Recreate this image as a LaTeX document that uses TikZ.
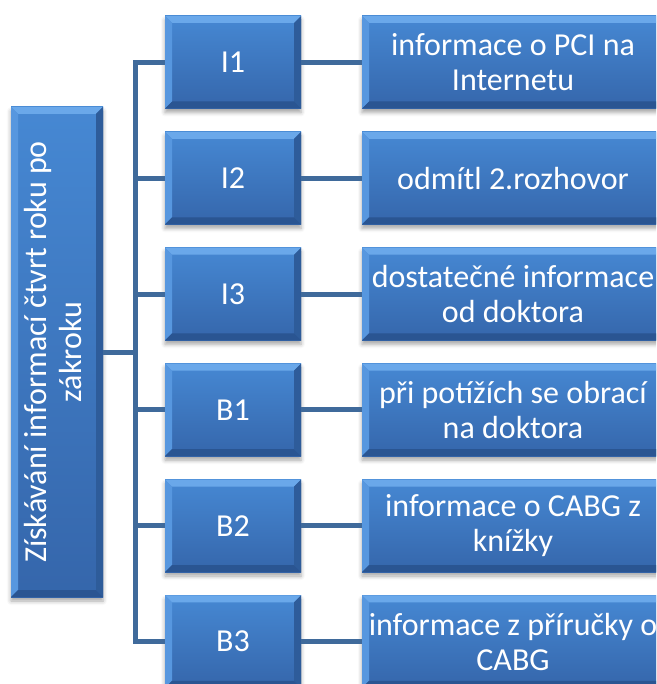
\documentclass[tikz,border=0pt]{standalone}
\usepackage{fontspec}
\setmainfont{Carlito}
\usetikzlibrary{calc,shadows.blur}

\definecolor{boxtop}{HTML}{4688D3}
\definecolor{boxbot}{HTML}{3566AB}
\definecolor{bevtop}{HTML}{6AA8EA}
\definecolor{bevleft}{HTML}{5797DF}
\definecolor{bevright}{HTML}{2E5C9A}
\definecolor{bevbot}{HTML}{2A5592}
\definecolor{linkc}{HTML}{3F6A9B}

\newcommand{\bv}{7pt}

\tikzset{
  bevbox/.style={
    rectangle, inner sep=0pt, draw=none, text=white, align=center,
    top color=boxtop, bottom color=boxbot,
    font=\fontsize{32}{35}\selectfont,
    blur shadow={shadow xshift=0pt, shadow yshift=-4pt,
                 shadow blur radius=4pt, shadow opacity=35},
    path picture={
      \path (path picture bounding box.north west) coordinate (bNW)
            (path picture bounding box.north east) coordinate (bNE)
            (path picture bounding box.south west) coordinate (bSW)
            (path picture bounding box.south east) coordinate (bSE);
      % bevelled rim: light top/left, dark right/bottom
      \fill[bevtop]  (bNW) -- (bNE) -- ([shift={(-\bv,-\bv)}]bNE) -- ([shift={(\bv,-\bv)}]bNW) -- cycle;
      \fill[bevleft] (bNW) -- ([shift={(\bv,-\bv)}]bNW) -- ([shift={(\bv,\bv)}]bSW) -- (bSW) -- cycle;
      \fill[bevright](bNE) -- (bSE) -- ([shift={(-\bv,\bv)}]bSE) -- ([shift={(-\bv,-\bv)}]bNE) -- cycle;
      \fill[bevbot]  (bSW) -- ([shift={(\bv,\bv)}]bSW) -- ([shift={(-\bv,\bv)}]bSE) -- (bSE) -- cycle;
    }},
  midbox/.style={bevbox, minimum width=136pt, minimum height=92.5pt},
  endbox/.style={bevbox, minimum width=302pt, minimum height=92.5pt},
  link/.style={draw=linkc, line width=5pt}
}

\begin{document}
\begin{tikzpicture}[x=1pt,y=-1pt]
  \useasboundingbox (0,0) rectangle (656,684);
  \clip (0,0) rectangle (656,684);

  % root box with vertical caption
  \node[bevbox, minimum width=92pt, minimum height=490pt] (root) at (57,352)
    {\rotatebox{90}{\begin{tabular}{@{}c@{}}Získávání informací čtvrt roku po\\zákroku\end{tabular}}};

  % middle column
  \node[midbox] (m1) at (233,62.25) {I1};
  \node[midbox] (m2) at (233,178.1) {I2};
  \node[midbox] (m3) at (233,294.0) {I3};
  \node[midbox] (m4) at (233,409.9) {B1};
  \node[midbox] (m5) at (233,525.8) {B2};
  \node[midbox] (m6) at (233,641.7) {B3};

  % right column
  \node[endbox] (r1) at (513,62.25) {informace o PCI na\\Internetu};
  \node[endbox] (r2) at (513,178.1) {odmítl 2.rozhovor};
  \node[endbox] (r3) at (513,294.0) {dostatečné informace\\od doktora};
  \node[endbox] (r4) at (513,409.9) {při potížích se obrací\\na doktora};
  \node[endbox] (r5) at (513,525.8) {informace o CABG z\\knížky};
  \node[endbox] (r6) at (513,641.7) {informace z příručky o\\CABG};

  % connectors
  \coordinate (tr) at (135,352);
  \draw[link] (root.east) -- (tr);
  \draw[link] (m1.west) -- (m1.west -| tr) -- (m6.west -| tr) -- (m6.west);
  \foreach \i in {2,...,5} {
    \draw[link] (m\i.west) -- (m\i.west -| tr);
  }
  \foreach \i in {1,...,6} {
    \draw[link] (m\i.east) -- (r\i.west);
  }
\end{tikzpicture}
\end{document}
